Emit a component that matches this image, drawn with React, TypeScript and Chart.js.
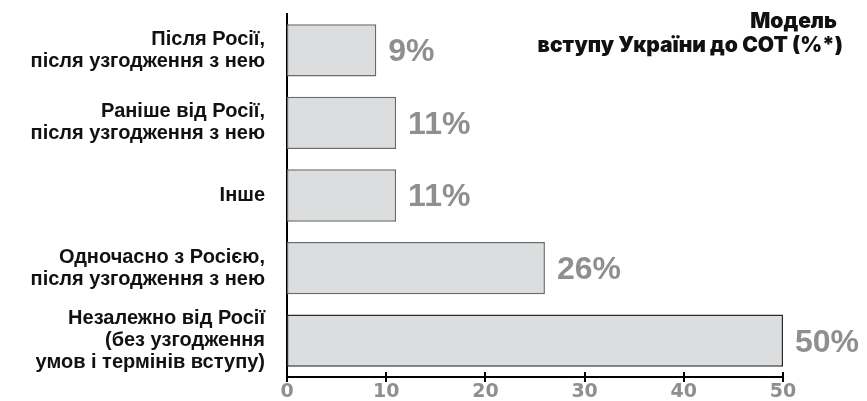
import React, { useEffect, useRef } from "react";
import { Chart, registerables } from "chart.js";

Chart.register(...registerables);

const categories: string[][] = [
  ["Після Росії,", "після узгодження з нею"],
  ["Раніше від Росії,", "після узгодження з нею"],
  ["Інше"],
  ["Одночасно з Росією,", "після узгодження з нею"],
  ["Незалежно від Росії", "(без узгодження", "умов і термінів вступу)"],
];
const values: number[] = [9, 11, 11, 26, 50];
const xTicks: number[] = [0, 10, 20, 30, 40, 50];
const titleLines: string[] = ["Модель", "вступу України до СОТ (%*)"];

const borderColors = ["#6a6a6a", "#6a6a6a", "#6a6a6a", "#6a6a6a", "#2a2a2a"];

const valueLabels = {
  id: "valueLabels",
  afterDatasetsDraw(chart: any) {
    const ctx = chart.ctx;
    const meta = chart.getDatasetMeta(0);
    ctx.save();
    ctx.font = "bold 32px 'Liberation Sans', Arial, sans-serif";
    ctx.fillStyle = "#8f8f8f";
    ctx.textAlign = "left";
    ctx.textBaseline = "middle";
    meta.data.forEach((el: any, i: number) => {
      ctx.fillText(values[i] + "%", el.x + 12, el.y + 2);
    });
    ctx.restore();
  },
};

const axisTicks = {
  id: "axisTicks",
  afterDraw(chart: any) {
    const ctx = chart.ctx;
    const xs = chart.scales.x;
    const y = chart.chartArea.bottom;
    ctx.save();
    ctx.strokeStyle = "#000";
    ctx.lineWidth = 2;
    xTicks.forEach((v) => {
      const x = Math.round(xs.getPixelForValue(v));
      ctx.beginPath();
      ctx.moveTo(x, y - 5);
      ctx.lineTo(x, y + 5);
      ctx.stroke();
    });
    ctx.restore();
  },
};

const titlePlugin = {
  id: "titleText",
  afterDraw(chart: any) {
    const ctx = chart.ctx;
    ctx.save();
    ctx.font = "900 21px Inter, 'Liberation Sans', sans-serif";
    ctx.fillStyle = "#111";
    ctx.textAlign = "right";
    ctx.textBaseline = "alphabetic";
    ctx.fillText(titleLines[0], 837, 28);
    ctx.fillText(titleLines[1], 843, 52);
    ctx.restore();
  },
};

export default function App() {
  const ref = useRef<HTMLCanvasElement>(null);
  useEffect(() => {
    if (!ref.current) return;
    const chart = new Chart(ref.current, {
      type: "bar",
      data: {
        labels: categories,
        datasets: [
          {
            data: values,
            backgroundColor: "#dcdddf",
            borderColor: borderColors,
            borderWidth: 1.5,
            borderSkipped: false,
            categoryPercentage: 1,
            barPercentage: 0.72,
          },
        ],
      },
      options: {
        indexAxis: "y",
        responsive: false,
        animation: false,
        layout: { padding: { top: 14, right: 84, bottom: 0, left: 0 } },
        plugins: {
          legend: { display: false },
          tooltip: { enabled: false },
          title: { display: false },
        },
        scales: {
          x: {
            min: 0,
            max: 50,
            ticks: {
              stepSize: 10,
              color: "#8f8f8f",
              font: { family: "'DejaVu Sans'", size: 19, weight: "bold" },
              padding: 4,
            },
            grid: { display: false, drawTicks: false },
            border: { display: true, color: "#000", width: 2 },
            afterFit: (s: any) => {
              s.height = 24;
              s.paddingLeft = 0;
              s.paddingRight = 0;
            },
          },
          y: {
            ticks: {
              color: "#111",
              font: { family: "'Liberation Sans'", size: 20, weight: "bold", lineHeight: 1.1 },
              padding: 22,
            },
            grid: { display: false, drawTicks: false },
            border: { display: true, color: "#000", width: 2 },
            afterFit: (s: any) => {
              s.width = 287;
              s.paddingTop = 0;
              s.paddingBottom = 0;
            },
          },
        },
      },
      plugins: [valueLabels, axisTicks, titlePlugin],
    });
    return () => chart.destroy();
  }, []);
  return (
    <div style={{ position: "fixed", left: 0, top: 0, width: 867, height: 401, background: "#fff" }}>
      <canvas ref={ref} width={867} height={401} />
    </div>
  );
}
